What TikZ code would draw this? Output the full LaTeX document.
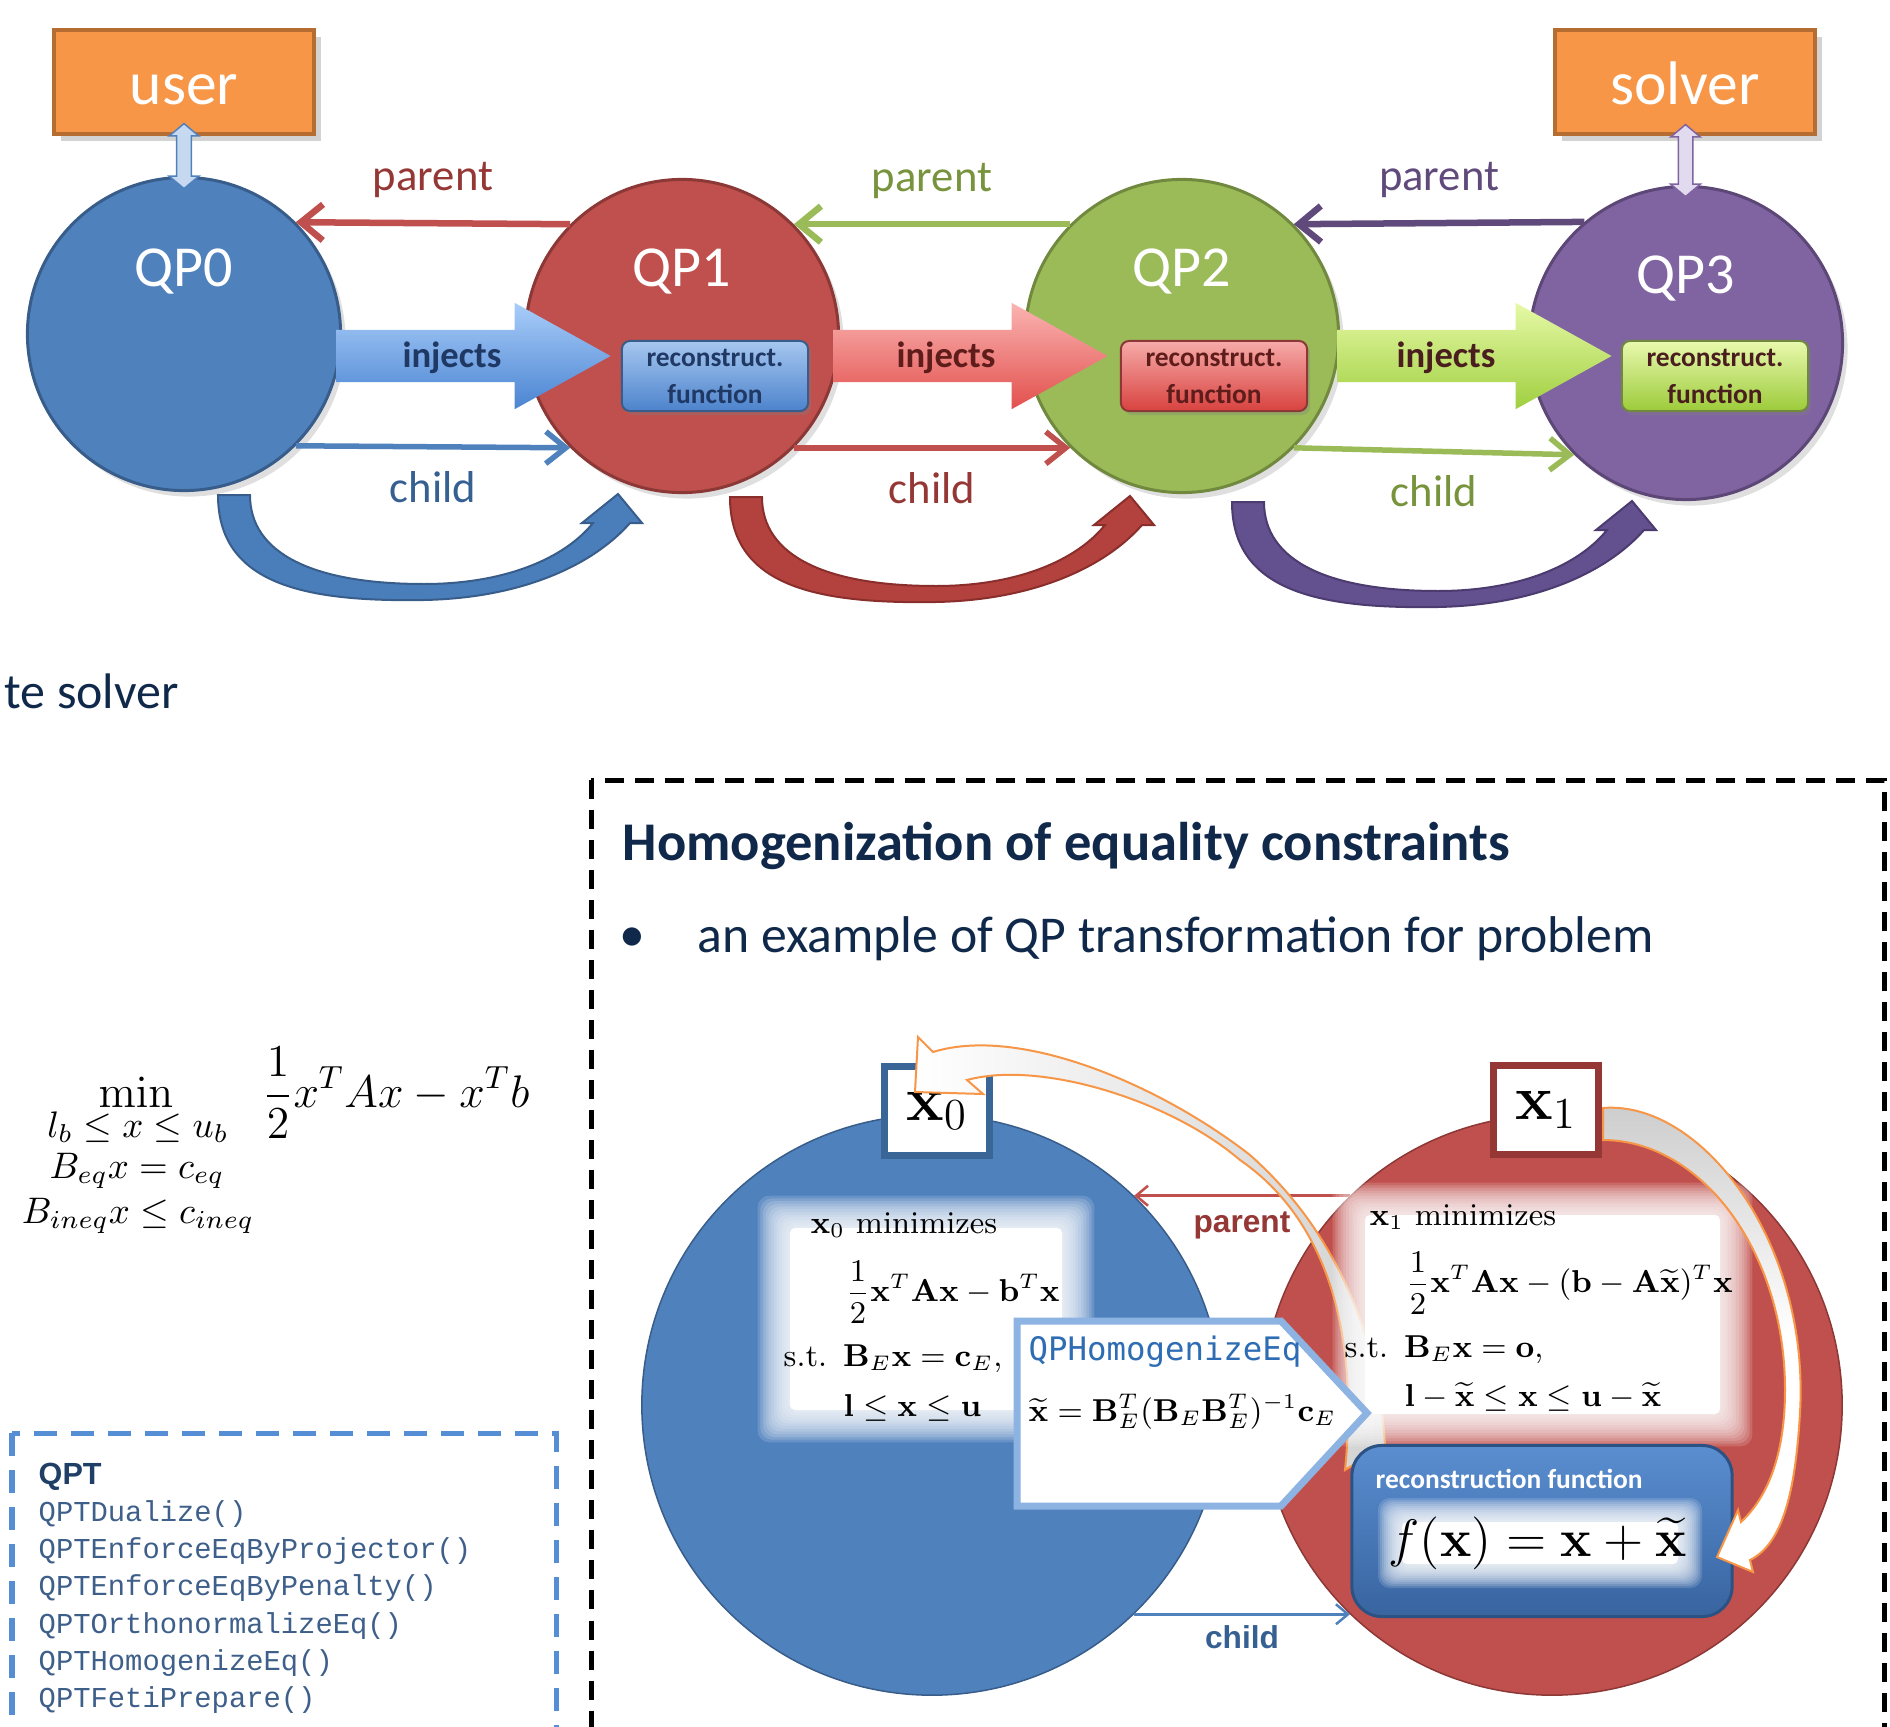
\documentclass[tikz,border=0pt]{standalone}
\usepackage{fix-cm}
\usepackage{amsmath}
\usepackage[no-math]{fontspec}
\newfontfamily\calib{Carlito}
\newfontfamily\arialbf{Liberation Sans}
\newfontfamily\hommono{DejaVu Sans Mono}
\newfontfamily\qptmono{Liberation Mono}
\usetikzlibrary{arrows.meta,shapes.arrows,shadows,calc}
\definecolor{qpblue}{HTML}{4F81BD}
\definecolor{qpblued}{HTML}{385D8A}
\definecolor{qpred}{HTML}{C0504D}
\definecolor{qpredd}{HTML}{8C3836}
\definecolor{qpgreen}{HTML}{9BBB59}
\definecolor{qpgreend}{HTML}{71893F}
\definecolor{qppurple}{HTML}{8064A2}
\definecolor{qppurpled}{HTML}{5C4776}
\definecolor{boxorange}{HTML}{F79646}
\definecolor{boxoranged}{HTML}{B66D31}
\definecolor{txtred}{HTML}{953735}
\definecolor{txtgreen}{HTML}{77933C}
\definecolor{txtpurple}{HTML}{604A7B}
\definecolor{txtblue}{HTML}{376092}
\definecolor{dblblue}{HTML}{C6D9F1}
\definecolor{dblpurple}{HTML}{E2DAEE}
\definecolor{injblueT}{HTML}{A9CDF9}
\definecolor{injblueB}{HTML}{4A84D2}
\definecolor{injredT}{HTML}{FAB4B2}
\definecolor{injredB}{HTML}{E2504D}
\definecolor{injgreenT}{HTML}{E6F9A6}
\definecolor{injgreenB}{HTML}{A0CF40}
\definecolor{rfblueT}{HTML}{A6C7F0}
\definecolor{rfblueB}{HTML}{4D83CC}
\definecolor{rfredT}{HTML}{F6ABA9}
\definecolor{rfredB}{HTML}{D8423F}
\definecolor{rfgreenT}{HTML}{E9F9AE}
\definecolor{rfgreenB}{HTML}{9CCB3A}
\definecolor{darknavy}{HTML}{1F3864}
\definecolor{darkmaroon}{HTML}{5E1C1B}
\definecolor{darkbrown}{HTML}{4A1E1E}
\definecolor{bendblue}{HTML}{4A7EBB}
\definecolor{bendred}{HTML}{B3423F}
\definecolor{bendredd}{HTML}{8A2E2C}
\definecolor{bendpurple}{HTML}{63508F}
\definecolor{bendpurpled}{HTML}{4B3B6E}
\definecolor{titlenavy}{HTML}{10294A}
\definecolor{qptdash}{HTML}{558ED5}
\definecolor{qptnavy}{HTML}{1F3F66}
\definecolor{qptblue}{HTML}{3E5F8A}
\definecolor{homblue}{HTML}{8DB3E2}
\definecolor{homtext}{HTML}{2E6DB4}
\definecolor{recT}{HTML}{5A8ED0}
\definecolor{recB}{HTML}{3864A0}
\definecolor{recD}{HTML}{2B5283}
\definecolor{xboxblue}{HTML}{3A6597}
\definecolor{arrorange}{HTML}{F79646}
\newcommand{\glowbox}[5]{%
  \foreach \k in {1,...,12}
    \fill[white, opacity=0.15, rounded corners=0.12cm] (#1-\k*#5,#2-\k*#5) rectangle (#3+\k*#5,#4+\k*#5);
  \fill[white, rounded corners=0.05cm] (#1,#2) rectangle (#3,#4);
}
\begin{document}
\begin{tikzpicture}[x=0.01cm, y=-0.01cm, every node/.style={inner sep=0pt},
    agent/.style={rectangle, fill=boxorange, draw=boxoranged, line width=0.045cm, minimum width=2.6cm, minimum height=1.04cm, text=white, font=\calib\fontsize{17.5}{20}\selectfont, text height=0.44cm, text depth=0cm, drop shadow={shadow xshift=0.07cm, shadow yshift=-0.07cm, opacity=0.35}},
    qpcirc/.style={circle, minimum size=3.13cm, line width=0.03cm, drop shadow={shadow xshift=0.05cm, shadow yshift=-0.06cm, opacity=0.25}},
    qplabel/.style={text=white, font=\calib\fontsize{16.5}{19}\selectfont},
    dblarrow/.style={double arrow, rotate=90, inner xsep=0pt, inner ysep=0.065cm, double arrow head extend=0.075cm, double arrow tip angle=100, line width=0.015cm},
    injarrow/.style={single arrow, anchor=tip, minimum height=2.74cm, inner xsep=0pt, inner ysep=0.255cm, single arrow head extend=0.27cm, single arrow tip angle=58},
    injlabel/.style={font=\calib\bfseries\fontsize{10.4}{12}\selectfont},
    rfbox/.style={rectangle, rounded corners=0.08cm, minimum width=1.86cm, minimum height=0.7cm, line width=0.02cm, align=center, font=\calib\bfseries\fontsize{7.8}{10.5}\selectfont, drop shadow={shadow xshift=0.03cm, shadow yshift=-0.04cm, opacity=0.3}},
    linklabel/.style={font=\calib\fontsize{12.7}{15}\selectfont},
    parentarr/.style={line width=0.065cm, -{Straight Barb[length=0.22cm, width=0.36cm]}},
    childarr/.style={line width=0.055cm, -{Straight Barb[length=0.2cm, width=0.32cm]}},
    bendarrow/.style={line width=0.02cm},
    bigcirc/.style={circle, minimum size=5.8cm, line width=0.015cm},
    xbox/.style={rectangle, fill=white, line width=0.07cm, minimum width=1.05cm, minimum height=0.89cm, font=\fontsize{18}{20}\selectfont},
    mathtxt/.style={anchor=west, font=\fontsize{9}{11}\selectfont},
    thinarr/.style={line width=0.025cm, -{Straight Barb[length=0.12cm, width=0.2cm]}},
    thinlabel/.style={font=\arialbf\bfseries\fontsize{9}{11}\selectfont},
    qptitem/.style={anchor=base west, text=qptblue, font=\qptmono\fontsize{8.2}{10}\selectfont}]
        \useasboundingbox (0,0) rectangle (1890,1727);
        \clip (0,0) rectangle (1890,1727);
        \node[agent] (user) at (184,82) {user};
        \node[agent] (solver) at (1685,82) {solver};
        \node[qpcirc, fill=qpblue, draw=qpblued] (qp0) at (184,334) {};
        \node[qpcirc, fill=qpred, draw=qpredd] (qp1) at (682,336) {};
        \node[qpcirc, fill=qpgreen, draw=qpgreend] (qp2) at (1182,336) {};
        \node[qpcirc, fill=qppurple, draw=qppurpled] (qp3) at (1686,343) {};
        \node[qplabel] (qp0t) at (184,272) {QP0};
        \node[qplabel] (qp1t) at (682,272) {QP1};
        \node[qplabel] (qp2t) at (1182,272) {QP2};
        \node[qplabel] (qp3t) at (1686,279) {QP3};
        \node[dblarrow, minimum height=0.65cm, fill=dblblue, draw=qpblue] (ua) at ($(user.south)!0.5!(qp0.north)$) {};
        \node[dblarrow, minimum height=0.72cm, fill=dblpurple, draw=qppurple] (sa) at ($(solver.south)!0.5!(qp3.north)$) {};
        \draw[parentarr, qpred] (qp1.135) -- (qp0.45) node[midway, yshift=0.43cm, linklabel, text=txtred] (par1) {parent};
        \draw[parentarr, qpgreen] (qp2.135) -- (qp1.45) node[midway, yshift=0.43cm, linklabel, text=txtgreen] (par2) {parent};
        \draw[parentarr, txtpurple] (qp3.130) -- (qp2.45) node[midway, yshift=0.43cm, linklabel, text=txtpurple] (par3) {parent};
        \draw[childarr, qpblue] (qp0.-45) -- (qp1.-135) node[midway, yshift=-0.40cm, linklabel, text=txtblue] (chi1) {child};
        \draw[childarr, qpred] (qp1.-45) -- (qp2.-135) node[midway, yshift=-0.40cm, linklabel, text=txtred] (chi2) {child};
        \draw[childarr, qpgreen] (qp2.-45) -- (qp3.-135) node[midway, yshift=-0.40cm, linklabel, text=txtgreen] (chi3) {child};
        \node[injarrow, top color=injblueT, bottom color=injblueB] (inj1) at (612,356) {};
        \node[injarrow, top color=injredT, bottom color=injredB] (inj2) at (1109,356) {};
        \node[injarrow, top color=injgreenT, bottom color=injgreenB] (inj3) at (1613,356) {};
        \node[injlabel, text=darknavy] (inj1t) at (452,358) {injects};
        \node[injlabel, text=darkmaroon] (inj2t) at (946,358) {injects};
        \node[injlabel, text=darkbrown] (inj3t) at (1446,358) {injects};
        \node[rfbox, top color=rfblueT, bottom color=rfblueB, draw=qpblued, text=darknavy] (rf1) at (715,376) {reconstruct.\\function};
        \node[rfbox, top color=rfredT, bottom color=rfredB, draw=qpredd, text=darkmaroon] (rf2) at (1214,376) {reconstruct.\\function};
        \node[rfbox, top color=rfgreenT, bottom color=rfgreenB, draw=qpgreend, text=darkbrown] (rf3) at (1715,376) {reconstruct.\\function};
        \begin{scope}[shift={(qp0.center)}]
          \filldraw[bendarrow, fill=bendblue, draw=qpblued] (34,161) .. controls (34,250) and (120,268) .. (240,266) .. controls (340,264) and (410,230) .. (446,189) -- (458,189) -- (434,160) -- (398,189) -- (409,189) .. controls (380,225) and (320,250) .. (240,250) .. controls (130,250) and (66,220) .. (66,161) -- cycle;
        \end{scope}
        \begin{scope}[shift={($(qp1.center)+(14,0)$)}]
          \filldraw[bendarrow, fill=bendred, draw=bendredd] (34,161) .. controls (34,250) and (120,268) .. (240,266) .. controls (340,264) and (410,230) .. (446,189) -- (458,189) -- (434,160) -- (398,189) -- (409,189) .. controls (380,225) and (320,250) .. (240,250) .. controls (130,250) and (66,220) .. (66,161) -- cycle;
        \end{scope}
        \begin{scope}[shift={($(qp2.center)+(16,5)$)}]
          \filldraw[bendarrow, fill=bendpurple, draw=bendpurpled] (34,161) .. controls (34,250) and (120,268) .. (240,266) .. controls (340,264) and (410,230) .. (446,189) -- (458,189) -- (434,160) -- (398,189) -- (409,189) .. controls (380,225) and (320,250) .. (240,250) .. controls (130,250) and (66,220) .. (66,161) -- cycle;
        \end{scope}
        \node[anchor=base west, text=titlenavy, font=\calib\fontsize{14.2}{17}\selectfont] (solvtxt) at (4,708) {te solver};
        \draw[black, line width=0.05cm, dash pattern=on 0.19cm off 0.11cm] (591,780) rectangle (1884,1800);
        \node[anchor=base west, text=titlenavy, font=\calib\bfseries\fontsize{15.5}{18}\selectfont] (title) at (622,860) {Homogenization of equality constraints};
        \node[text=titlenavy, font=\calib\fontsize{14.7}{17}\selectfont] (bul) at (632,940) {\textbullet};
        \node[anchor=base west, text=titlenavy, font=\calib\fontsize{14.7}{17}\selectfont] (bultxt) at (697,952) {an example of QP transformation for problem};
        \node[anchor=base, font=\fontsize{13}{15}\selectfont] (minop) at (136,1107) {$\min$};
        \node[anchor=base, font=\fontsize{10.5}{12}\selectfont] (cons1) at (138,1137) {$l_b \le x \le u_b$};
        \node[anchor=base, font=\fontsize{10.5}{12}\selectfont] (cons2) at (137,1178) {$B_{eq}x = c_{eq}$};
        \node[anchor=base, font=\fontsize{10.5}{12}\selectfont] (cons3) at (138,1223) {$B_{ineq}x \le c_{ineq}$};
        \node[anchor=west, font=\fontsize{13}{15}\selectfont] (obj) at (262,1093) {$\displaystyle\frac{1}{2}x^TAx - x^Tb$};
        \draw[qptdash, line width=0.05cm, dash pattern=on 0.23cm off 0.14cm] (12,1433) rectangle (556,1800);
        \node[anchor=base west, text=qptnavy, font=\arialbf\bfseries\fontsize{8.7}{10}\selectfont] (qpt) at (38,1484) {QPT};
        \node[qptitem] (qpt1) at (38,1521) {QPTDualize()};
        \node[qptitem] (qpt2) at (38,1558) {QPTEnforceEqByProjector()};
        \node[qptitem] (qpt3) at (38,1595) {QPTEnforceEqByPenalty()};
        \node[qptitem] (qpt4) at (38,1633) {QPTOrthonormalizeEq()};
        \node[qptitem] (qpt5) at (38,1670) {QPTHomogenizeEq()};
        \node[qptitem] (qpt6) at (38,1707) {QPTFetiPrepare()};
        \node[bigcirc, fill=qpred, draw=qpredd] (c1) at (1552,1405) {};
        \node[bigcirc, fill=qpblue, draw=qpblued] (c0) at (932,1405) {};
        \draw[thinarr, qpred] (c1.134) -- (c0.46) node[midway, yshift=-0.30cm, thinlabel, text=txtred] (plab) {parent};
        \draw[thinarr, qpblue] (c0.-46) -- (c1.-134) node[midway, yshift=-0.23cm, thinlabel, text=txtblue] (clab) {child};
        \node[xbox, draw=xboxblue] (x0) at (937,1111) {$\mathbf{x}_0$};
        \node[xbox, draw=txtred] (x1) at (1546,1110) {$\mathbf{x}_1$};
        \filldraw[line width=0.02cm, draw=arrorange, left color=white, right color=gray!35] (1385,1445) .. controls (1378,1340) and (1340,1235) .. (1250,1155) .. controls (1160,1085) and (1020,1025) .. (933,1052) -- (918,1037) -- (915,1092) -- (983,1094) -- (967,1080) .. controls (1040,1060) and (1170,1100) .. (1240,1160) .. controls (1320,1215) and (1360,1320) .. (1345,1470) -- cycle;
        \glowbox{790}{1228}{1062}{1410}{2.7}
        \glowbox{1365}{1215}{1720}{1414}{2.7}
        \node[mathtxt] (m0a) at (810,1225) {$\mathbf{x}_0$\ minimizes};
        \node[mathtxt] (m0b) at (845,1292) {$\dfrac{1}{2}\mathbf{x}^T\mathbf{A}\mathbf{x} - \mathbf{b}^T\mathbf{x}$};
        \node[mathtxt] (m0c) at (783,1359) {s.t.\enspace$\mathbf{B}_E\mathbf{x} = \mathbf{c}_E,$};
        \node[mathtxt] (m0d) at (843,1408) {$\mathbf{l} \le \mathbf{x} \le \mathbf{u}$};
        \node[mathtxt] (m1a) at (1369,1217) {$\mathbf{x}_1$\ minimizes};
        \node[mathtxt] (m1b) at (1405,1283) {$\dfrac{1}{2}\mathbf{x}^T\mathbf{A}\mathbf{x} - (\mathbf{b} - \mathbf{A}\widetilde{\mathbf{x}})^T\mathbf{x}$};
        \node[mathtxt] (m1c) at (1344,1350) {s.t.\enspace$\mathbf{B}_E\mathbf{x} = \mathbf{o},$};
        \node[mathtxt] (m1d) at (1404,1397) {$\mathbf{l} - \widetilde{\mathbf{x}} \le \mathbf{x} \le \mathbf{u} - \widetilde{\mathbf{x}}$};
        \filldraw[fill=white, draw=homblue, line width=0.07cm] (1017,1321) -- (1281,1321) -- (1367,1413) -- (1281,1506) -- (1017,1506) -- cycle;
        \node[anchor=west, text=homtext, font=\hommono\fontsize{9.2}{11}\selectfont] (homt) at (1028,1352) {QPHomogenizeEq};
        \node[mathtxt] (homf) at (1028,1412) {$\widetilde{\mathbf{x}} = \mathbf{B}_E^T(\mathbf{B}_E\mathbf{B}_E^T)^{-1}\mathbf{c}_E$};
        \node[rectangle, rounded corners=0.3cm, minimum width=3.8cm, minimum height=1.71cm, top color=recT, bottom color=recB, draw=recD, line width=0.03cm] (rec) at (1542,1531) {};
        \node[anchor=west, text=white, font=\calib\bfseries\fontsize{7.8}{9}\selectfont] (rect) at (1375,1479) {reconstruction function};
        \glowbox{1402}{1522}{1678}{1564}{2}
        \node[font=\fontsize{15}{17}\selectfont] (recf) at (1538,1543) {$f(\mathbf{x}) = \mathbf{x} + \widetilde{\mathbf{x}}$};
        \filldraw[line width=0.02cm, draw=arrorange, top color=gray!40, bottom color=white, middle color=white] (1603,1108) .. controls (1700,1100) and (1810,1240) .. (1800,1413) .. controls (1795,1500) and (1780,1545) .. (1750,1560) -- (1753,1572) -- (1717,1557) -- (1738,1510) -- (1741,1522) .. controls (1770,1495) and (1785,1450) .. (1785,1390) .. controls (1785,1250) and (1700,1140) .. (1603,1140) -- cycle;
\end{tikzpicture}
\end{document}
